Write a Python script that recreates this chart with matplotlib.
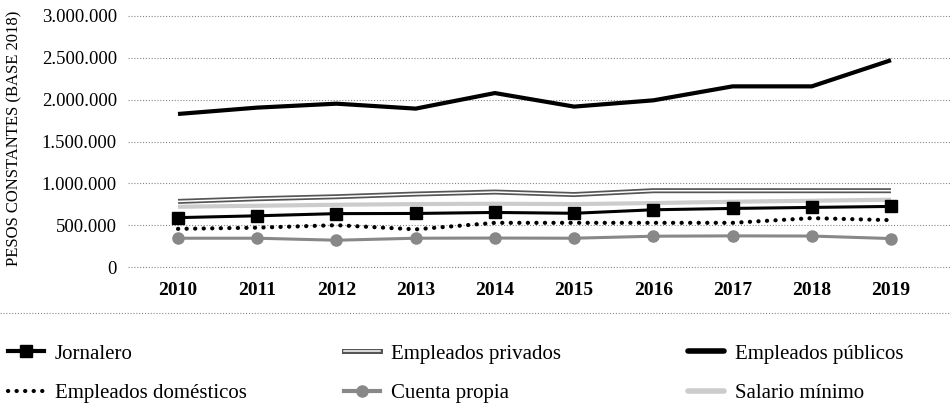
import numpy as np
import matplotlib
matplotlib.use("Agg")
import matplotlib.pyplot as plt
from matplotlib.lines import Line2D
from matplotlib.ticker import FuncFormatter

plt.rcParams['font.family'] = ['Liberation Serif', 'DejaVu Serif']

# datos (pesos constantes, base 2018)
years = [2010, 2011, 2012, 2013, 2014, 2015, 2016, 2017, 2018, 2019]
jornalero = [590000, 612000, 638000, 640000, 652000, 642000, 684000, 700000, 712000, 724000]
privados = [784000, 816000, 840000, 872000, 896000, 866000, 912000, 912000, 912000, 912000]
publicos = [1829000, 1905000, 1952000, 1893000, 2079000, 1917000, 1992000, 2159000, 2159000, 2472000]
domesticos = [456000, 470000, 500000, 450000, 528000, 528000, 528000, 528000, 584000, 560000]
cuenta_propia = [344000, 344000, 320000, 344000, 346000, 344000, 368000, 372000, 370000, 340000]
salario_minimo = [720000, 732000, 744000, 752000, 756000, 752000, 764000, 780000, 792000, 804000]

yticks = [0, 500000, 1000000, 1500000, 2000000, 2500000, 3000000]
ylabel = "PESOS CONSTANTES (BASE 2018)"

W, H = 950, 403
fig = plt.figure(figsize=(W / 100, H / 100), dpi=100)
ax = fig.add_axes([128 / W, 1 - 267 / H, 1 - 128 / W, (267 - 16) / H])

ax.set_xlim(2010 - 50 / 79.2, 2019 + 59 / 79.2)
ax.set_ylim(0, 3000000)

for v in yticks:
    ax.axhline(v, color='#888888', lw=0.8, ls=(0, (1, 1.6)), zorder=0, clip_on=False)

# lineas
ax.plot(years, publicos, color='black', lw=3, solid_capstyle='butt')
ax.plot(years, privados, color='#555555', lw=3.6, solid_capstyle='butt')
ax.plot(years, privados, color='white', lw=1.1, solid_capstyle='butt')
ax.plot(years, salario_minimo, color='#cccccc', lw=3, solid_capstyle='butt')
ax.plot(years, jornalero, color='black', lw=2.2, marker='s', markersize=9)
ax.plot(years, domesticos, color='black', lw=3, ls=(0, (0.05, 2.0)), dash_capstyle='round')
ax.plot(years, cuenta_propia, color='#888888', lw=2.2, marker='o', markersize=8)

for s in ax.spines.values():
    s.set_visible(False)

ax.set_xticks(years)
ax.set_xticklabels([str(y) for y in years], fontsize=14, fontweight='bold')
ax.set_yticks(yticks)
ax.yaxis.set_major_formatter(FuncFormatter(lambda v, p: f"{int(v):,}".replace(",", ".")))
ax.tick_params(axis='x', length=0, pad=11)
ax.tick_params(axis='y', length=0, pad=8, labelsize=13.5)

fig.text(14 / W, 1 - 138 / H, ylabel, rotation=90, ha='center', va='center', fontsize=12)

# linea separadora
fig.add_artist(Line2D([0, 1], [1 - 313 / H, 1 - 313 / H], color='#888888', lw=0.8,
                      ls=(0, (1, 1.6))))

# leyenda
h_jor = Line2D([], [], color='black', lw=3, marker='s', markersize=9)
h_priv = (Line2D([], [], color='#555555', lw=3.6), Line2D([], [], color='white', lw=1.1))
h_pub = Line2D([], [], color='black', lw=4, solid_capstyle='round')
h_dom = Line2D([], [], color='black', lw=3, ls=(0, (0.05, 2.0)), dash_capstyle='round')
h_cp = Line2D([], [], color='#888888', lw=3, marker='o', markersize=8)
h_sal = Line2D([], [], color='#cccccc', lw=4, solid_capstyle='round')

cols = [
    ([h_jor, h_dom], ["Jornalero", "Empleados domésticos"], 8),
    ([h_priv, h_cp], ["Empleados privados", "Cuenta propia"], 344),
    ([h_pub, h_sal], ["Empleados públicos", "Salario mínimo"], 688),
]
for hs, labs, x0 in cols:
    fig.legend(hs, labs, loc='upper left', bbox_to_anchor=(x0 / W, 1 - 344 / H),
               frameon=False, fontsize=15, borderpad=0, borderaxespad=0,
               handlelength=1.75, handletextpad=0.5, labelspacing=0.95)

fig.savefig("out.png", dpi=100)
